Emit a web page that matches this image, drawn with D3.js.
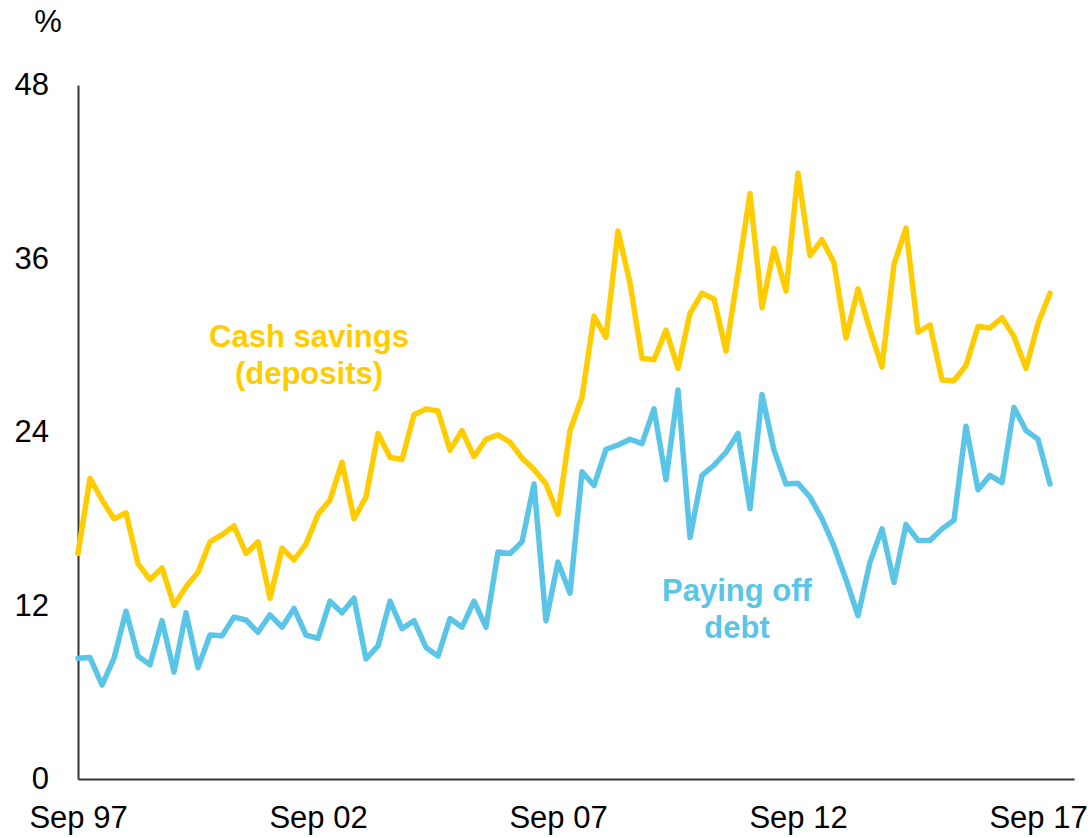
<!DOCTYPE html>
<html>
<head>
<meta charset="utf-8">
<script src="https://cdn.jsdelivr.net/npm/d3@7"></script>
<style>
  html, body { margin: 0; padding: 0; background: #fff; }
  svg { display: block; font-family: Arial, "Liberation Sans", sans-serif; }
</style>
</head>
<body>
<svg id="chart" width="1092" height="838"></svg>
<script>
// Quarterly data, Sep 1997 .. Dec 2017 (index 0 = Sep 97)
const cashSavings = [15.6, 20.8, 19.3, 18.0, 18.4, 14.9, 13.8, 14.6, 12.0, 13.3, 14.3, 16.4, 16.9, 17.5, 15.6, 16.4,
  12.5, 15.96, 15.15, 16.25, 18.3, 19.3, 21.9, 18.0, 19.5, 23.9, 22.25, 22.1, 25.2, 25.6, 25.45,
  22.75, 24.1, 22.3, 23.5, 23.8, 23.3, 22.2, 21.4, 20.4, 18.3, 24.1, 26.4, 32.0, 30.55, 37.9,
  34.3, 29.1, 29.0, 31.05, 28.4, 32.2, 33.6, 33.2, 29.6, 35.0, 40.5, 32.6, 36.7, 33.75, 41.9,
  36.2, 37.3, 35.7, 30.5, 33.9, 31.05, 28.5, 35.6, 38.1, 30.9, 31.4, 27.6, 27.55, 28.6, 31.3,
  31.2, 31.9, 30.6, 28.4, 31.5, 33.6];
const payingOffDebt = [8.35, 8.4, 6.5, 8.35, 11.6, 8.5, 7.9, 10.95, 7.4, 11.5, 7.7, 9.96, 9.9, 11.2, 11.0, 10.15,
  11.35, 10.5, 11.8, 9.96, 9.73, 12.3, 11.5, 12.5, 8.3, 9.2, 12.3, 10.4, 10.95, 9.1, 8.5,
  11.1, 10.5, 12.3, 10.5, 15.7, 15.6, 16.4, 20.4, 10.95, 15.0, 12.85, 21.25, 20.3, 22.8, 23.1,
  23.5, 23.2, 25.6, 20.7, 26.9, 16.7, 21.0, 21.7, 22.6, 23.9, 18.7, 26.6, 22.75, 20.4, 20.45,
  19.5, 18.0, 16.1, 13.8, 11.3, 15.0, 17.3, 13.6, 17.6, 16.5, 16.5, 17.3, 17.9, 24.4, 20.0,
  21.0, 20.5, 25.7, 24.1, 23.5, 20.4];
const xTickIndex = [0, 20, 40, 60, 80];
const xTickLabels = ["Sep 97", "Sep 02", "Sep 07", "Sep 12", "Sep 17"];
const yTicks = [0, 12, 24, 36, 48];
const seriesNames = ["Cash savings", "(deposits)"];
const debtNames = ["Paying off", "debt"];

const svg = d3.select("#chart");
const x = d3.scaleLinear().domain([0, 83]).range([78, 1074]);
const y = d3.scaleLinear().domain([0, 48]).range([779, 85]);

const yellow = "#FFCC00";
const blue = "#5BC5E8";
const fontSize = 31;

// Y axis
const yAxis = svg.append("g")
  .attr("transform", `translate(${x(0)},0)`)
  .call(d3.axisLeft(y).tickValues(yTicks).tickSize(0).tickSizeOuter(0).tickPadding(29));
yAxis.select(".domain").attr("stroke", "#333").attr("stroke-width", 2);
yAxis.selectAll("text").attr("font-size", fontSize).attr("fill", "#000")
  .attr("font-family", "Arial, 'Liberation Sans', sans-serif");

// X axis
const xAxis = svg.append("g")
  .attr("transform", `translate(0,${y(0)})`)
  .call(d3.axisBottom(x).tickValues(xTickIndex).tickSize(0).tickSizeOuter(0).tickPadding(27)
    .tickFormat((d, i) => xTickLabels[i]));
xAxis.select(".domain").attr("stroke", "#333").attr("stroke-width", 2);
xAxis.selectAll("text").attr("font-size", fontSize).attr("fill", "#000")
  .attr("font-family", "Arial, 'Liberation Sans', sans-serif");

// % label
svg.append("text").attr("x", 48).attr("y", 32).attr("text-anchor", "middle")
  .attr("font-size", fontSize).attr("fill", "#000").text("%");

// Lines
const line = d3.line().x((d, i) => x(i)).y(d => y(d));
svg.append("path").datum(payingOffDebt)
  .attr("d", line).attr("fill", "none").attr("stroke", blue)
  .attr("stroke-width", 5.5).attr("stroke-linejoin", "round").attr("stroke-linecap", "round");
svg.append("path").datum(cashSavings)
  .attr("d", line).attr("fill", "none").attr("stroke", yellow)
  .attr("stroke-width", 5.5).attr("stroke-linejoin", "round").attr("stroke-linecap", "round");

// Series labels
const cashLbl = svg.append("text").attr("text-anchor", "middle")
  .attr("font-size", 31).attr("font-weight", "bold").attr("fill", yellow);
cashLbl.selectAll("tspan").data(seriesNames).enter().append("tspan")
  .attr("x", 309).attr("y", (d, i) => 347 + i * 37).text(d => d);

const debtLbl = svg.append("text").attr("text-anchor", "middle")
  .attr("font-size", 31).attr("font-weight", "bold").attr("fill", blue);
debtLbl.selectAll("tspan").data(debtNames).enter().append("tspan")
  .attr("x", 737).attr("y", (d, i) => 601 + i * 37).text(d => d);
</script>
</body>
</html>
